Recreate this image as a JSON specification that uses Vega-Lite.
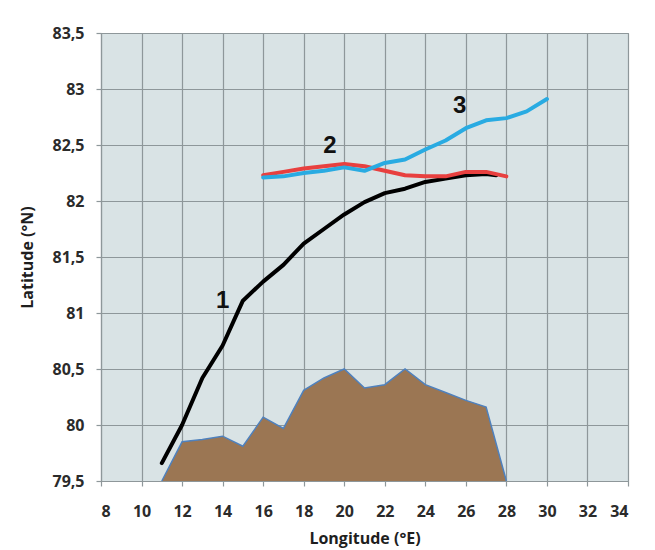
{
  "$schema": "https://vega.github.io/schema/vega-lite/v6.json",
  "width": 527,
  "height": 448,
  "autosize": {"type": "none"},
  "padding": {"left": 101, "top": 33, "right": 27, "bottom": 69},
  "background": "white",
  "config": {
    "view": {"fill": "#d9e3e5", "stroke": "#8e979a", "strokeWidth": 1},
    "axis": {
      "grid": true,
      "gridColor": "#8e979a",
      "gridWidth": 1.2,
      "gridOpacity": 1,
      "domainColor": "#8e979a",
      "domainWidth": 1.2,
      "tickColor": "#8e979a",
      "tickSize": 5,
      "tickWidth": 1.2,
      "labelFont": "Open Sans",
      "labelFontSize": 16,
      "labelFontWeight": "bold",
      "labelColor": "#2b2b2b",
      "titleFont": "Open Sans",
      "titleFontSize": 16,
      "titleFontWeight": "bold",
      "titleColor": "#1e1e1e"
    }
  },
  "datasets": {
    "shelf": [
      {"lon": 11, "lat": 79.5},
      {"lon": 12, "lat": 79.85},
      {"lon": 13, "lat": 79.87},
      {"lon": 14, "lat": 79.9},
      {"lon": 15, "lat": 79.81},
      {"lon": 16, "lat": 80.07},
      {"lon": 17, "lat": 79.97},
      {"lon": 18, "lat": 80.31},
      {"lon": 19, "lat": 80.42},
      {"lon": 20, "lat": 80.5},
      {"lon": 21, "lat": 80.33},
      {"lon": 22, "lat": 80.36},
      {"lon": 23, "lat": 80.5},
      {"lon": 24, "lat": 80.36},
      {"lon": 25, "lat": 80.29},
      {"lon": 26, "lat": 80.22},
      {"lon": 27, "lat": 80.16},
      {"lon": 28, "lat": 79.5}
    ],
    "tracks": [
      {"series": "1", "lon": 11, "lat": 79.66},
      {"series": "1", "lon": 12, "lat": 80.0},
      {"series": "1", "lon": 13, "lat": 80.42},
      {"series": "1", "lon": 14, "lat": 80.71},
      {"series": "1", "lon": 15, "lat": 81.11},
      {"series": "1", "lon": 16, "lat": 81.28},
      {"series": "1", "lon": 17, "lat": 81.43},
      {"series": "1", "lon": 18, "lat": 81.62},
      {"series": "1", "lon": 19, "lat": 81.75},
      {"series": "1", "lon": 20, "lat": 81.88},
      {"series": "1", "lon": 21, "lat": 81.99},
      {"series": "1", "lon": 22, "lat": 82.07},
      {"series": "1", "lon": 23, "lat": 82.11},
      {"series": "1", "lon": 24, "lat": 82.17},
      {"series": "1", "lon": 25, "lat": 82.2},
      {"series": "1", "lon": 26, "lat": 82.23},
      {"series": "1", "lon": 27, "lat": 82.24},
      {"series": "1", "lon": 27.5, "lat": 82.23},
      {"series": "2", "lon": 16, "lat": 82.23},
      {"series": "2", "lon": 17, "lat": 82.26},
      {"series": "2", "lon": 18, "lat": 82.29},
      {"series": "2", "lon": 19, "lat": 82.31},
      {"series": "2", "lon": 20, "lat": 82.33},
      {"series": "2", "lon": 21, "lat": 82.31},
      {"series": "2", "lon": 22, "lat": 82.27},
      {"series": "2", "lon": 23, "lat": 82.23},
      {"series": "2", "lon": 24, "lat": 82.22},
      {"series": "2", "lon": 25, "lat": 82.22},
      {"series": "2", "lon": 26, "lat": 82.26},
      {"series": "2", "lon": 27, "lat": 82.26},
      {"series": "2", "lon": 28, "lat": 82.22},
      {"series": "3", "lon": 16, "lat": 82.21},
      {"series": "3", "lon": 17, "lat": 82.22},
      {"series": "3", "lon": 18, "lat": 82.25},
      {"series": "3", "lon": 19, "lat": 82.27},
      {"series": "3", "lon": 20, "lat": 82.3},
      {"series": "3", "lon": 21, "lat": 82.27},
      {"series": "3", "lon": 22, "lat": 82.34},
      {"series": "3", "lon": 23, "lat": 82.37},
      {"series": "3", "lon": 24, "lat": 82.46},
      {"series": "3", "lon": 25, "lat": 82.54},
      {"series": "3", "lon": 26, "lat": 82.65},
      {"series": "3", "lon": 27, "lat": 82.72},
      {"series": "3", "lon": 28, "lat": 82.74},
      {"series": "3", "lon": 29, "lat": 82.8},
      {"series": "3", "lon": 30, "lat": 82.91}
    ],
    "tags": [
      {"tag": "1", "lon": 14.0, "lat": 81.11},
      {"tag": "2", "lon": 19.3, "lat": 82.49},
      {"tag": "3", "lon": 25.7, "lat": 82.85}
    ]
  },
  "encoding": {
    "x": {
      "field": "lon",
      "type": "quantitative",
      "scale": {"domain": [8, 34], "nice": false, "zero": false},
      "axis": {
        "title": "Longitude (°E)",
        "values": [8, 10, 12, 14, 16, 18, 20, 22, 24, 26, 28, 30, 32, 34],
        "labelPadding": 17,
        "titlePadding": 11
      }
    },
    "y": {
      "field": "lat",
      "type": "quantitative",
      "scale": {"domain": [79.5, 83.5], "nice": false, "zero": false},
      "axis": {
        "title": "Latitude (°N)",
        "values": [79.5, 80, 80.5, 81, 81.5, 82, 82.5, 83, 83.5],
        "labelExpr": "replace(format(datum.value, '.1~f'), '.', ',')",
        "labelPadding": 12,
        "titlePadding": 16
      }
    }
  },
  "layer": [
    {
      "data": {"name": "shelf"},
      "mark": {
        "type": "area",
        "color": "#9b7653",
        "opacity": 1,
        "line": {"color": "#4f81bd", "strokeWidth": 1.5}
      },
      "encoding": {"y2": {"datum": 79.5}}
    },
    {
      "data": {"name": "tracks"},
      "mark": {"type": "line", "strokeWidth": 4, "strokeCap": "round", "strokeJoin": "round"},
      "encoding": {
        "color": {
          "field": "series",
          "type": "nominal",
          "scale": {"domain": ["1", "2", "3"], "range": ["#000000", "#e8403f", "#29abe2"]},
          "legend": null
        },
        "order": {"field": "lon", "type": "quantitative"}
      }
    },
    {
      "data": {"name": "tags"},
      "mark": {
        "type": "text",
        "font": "Liberation Sans",
        "fontSize": 24,
        "fontWeight": "bold",
        "color": "#111111",
        "align": "center",
        "baseline": "middle"
      },
      "encoding": {"text": {"field": "tag", "type": "nominal"}}
    }
  ]
}
